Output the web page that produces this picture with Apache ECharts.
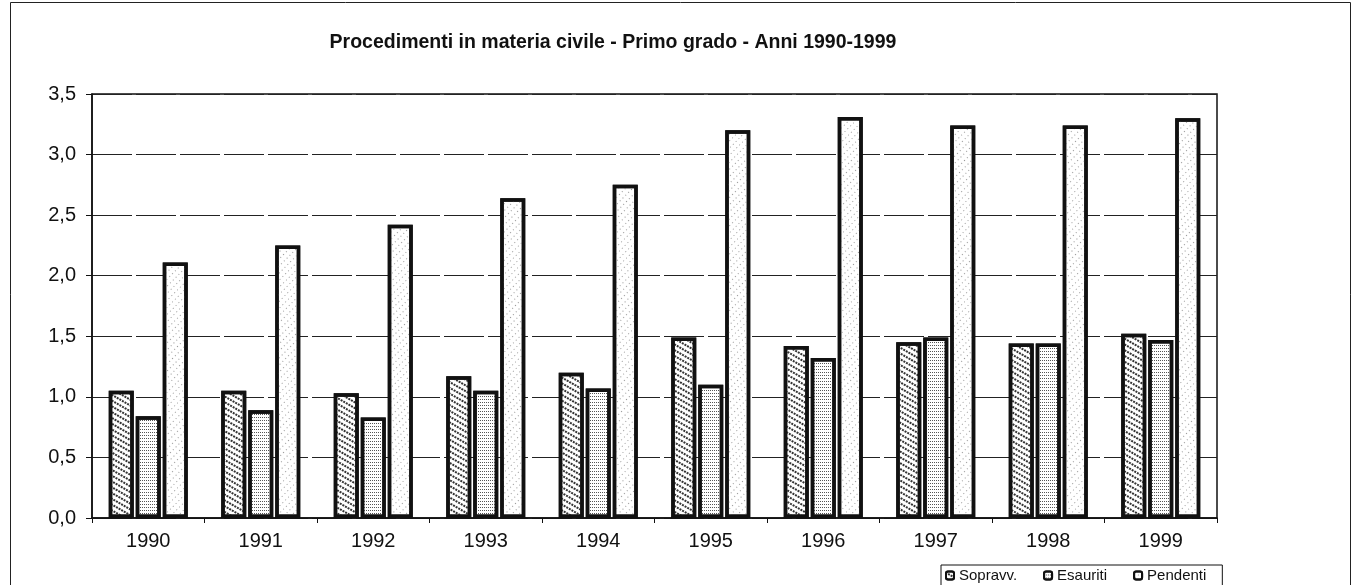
<!DOCTYPE html>
<html>
<head>
<meta charset="utf-8">
<script src="https://cdn.jsdelivr.net/npm/echarts@6/dist/echarts.min.js"></script>
<style>
  html, body { margin: 0; padding: 0; background: #fff; }
  #chart { width: 1354px; height: 585px; }
</style>
</head>
<body>
<div id="chart"></div>
<script>
const years = ['1990', '1991', '1992', '1993', '1994', '1995', '1996', '1997', '1998', '1999'];
const sopravv = [1.05, 1.05, 1.03, 1.17, 1.20, 1.49, 1.42, 1.45, 1.44, 1.52];
const esauriti = [0.84, 0.89, 0.83, 1.05, 1.07, 1.10, 1.32, 1.49, 1.44, 1.47];
const pendenti = [2.11, 2.25, 2.42, 2.64, 2.75, 3.20, 3.31, 3.24, 3.24, 3.30];
const yTicks = [0, 0.5, 1, 1.5, 2, 2.5, 3, 3.5];

const font = 'Arial, "Liberation Sans", sans-serif';

function bar(name, values, decal) {
  return {
    name: name,
    type: 'bar',
    data: values,
    barWidth: 25,
    barGap: '8%',
    itemStyle: {
      color: '#fff',
      borderColor: '#111',
      borderWidth: 3.5,
      decal: decal
    },
    emphasis: { disabled: true }
  };
}

const option = {
  animation: false,
  aria: { enabled: true, decal: { show: true } },
  title: {
    text: 'Procedimenti in materia civile - Primo grado - Anni 1990-1999',
    left: 608,
    top: 28,
    textAlign: 'center',
    textStyle: { fontFamily: font, fontSize: 19.5, fontWeight: 'bold', color: '#111' }
  },
  grid: { left: 92, right: 137, top: 94, bottom: 67, show: true, borderColor: '#111', borderWidth: 1.5 },
  legend: {
    left: 941,
    top: 565,
    itemWidth: 8,
    itemHeight: 8,
    itemGap: 26,
    padding: [3, 16, 3, 4],
    borderColor: '#111',
    borderWidth: 1,
    backgroundColor: '#fff',
    textStyle: { fontFamily: font, fontSize: 15, color: '#111' },
    data: ['Sopravv.', 'Esauriti', 'Pendenti']
  },
  xAxis: {
    type: 'category',
    data: years,
    axisLine: { lineStyle: { color: '#111', width: 1.5 } },
    axisTick: { show: true, lineStyle: { color: '#111' } },
    axisLabel: { fontFamily: font, fontSize: 20, color: '#111', margin: 13 }
  },
  yAxis: {
    type: 'value',
    min: 0,
    max: 3.5,
    interval: 0.5,
    axisLine: { show: true, lineStyle: { color: '#111', width: 1.5 } },
    axisTick: { show: true, length: 6, lineStyle: { color: '#111' } },
    axisLabel: {
      fontFamily: font, fontSize: 20, color: '#111', margin: 16,
      formatter: v => yTicks.includes(v) ? v.toFixed(1).replace('.', ',') : ''
    },
    splitLine: { lineStyle: { color: '#222', width: 1.2, type: [40, 4] } }
  },
  series: [
    bar('Sopravv.', sopravv, { symbol: 'rect', symbolSize: 1, color: '#333', dashArrayX: [2, 1], dashArrayY: [2, 3] }),
    bar('Esauriti', esauriti, { symbol: 'rect', symbolSize: 1, color: '#555', dashArrayX: [1, 1], dashArrayY: [1, 2] }),
    bar('Pendenti', pendenti, { symbol: 'rect', symbolSize: 1, color: '#999', dashArrayX: [1, 3], dashArrayY: [1, 4] })
  ],
  graphic: [
    { type: 'rect', left: 8, top: 0, shape: { width: 1340, height: 584 }, style: { fill: 'none', stroke: '#222', lineWidth: 1 }, silent: true, z: -1 }
  ]
};

const chart = echarts.init(document.getElementById('chart'));
chart.setOption(option);
</script>
</body>
</html>
